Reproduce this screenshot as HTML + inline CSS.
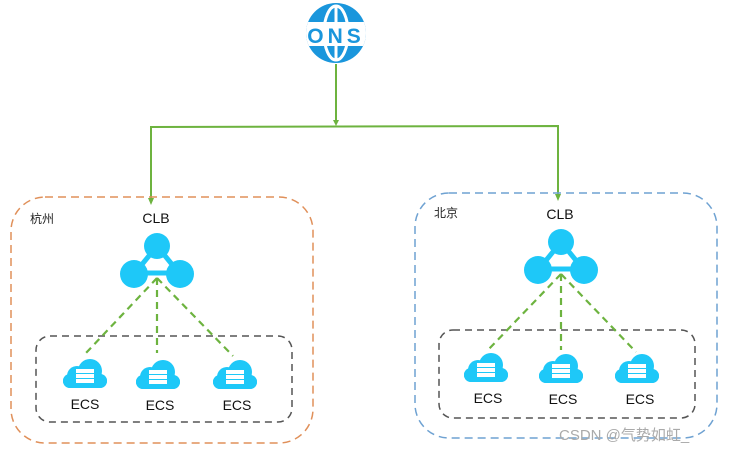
<!DOCTYPE html>
<html><head><meta charset="utf-8"><style>
html,body{margin:0;padding:0;background:#fff;}
svg{display:block;}
text{font-family:"Liberation Sans","Noto Sans CJK SC",sans-serif;}
</style></head><body>
<svg width="732" height="452" viewBox="0 0 732 452" xmlns="http://www.w3.org/2000/svg">
<defs>
<g id="cloud">
<circle cx="-8" cy="2" r="10" fill="#1ec8f8"/>
<circle cx="5" cy="-3" r="12" fill="#1ec8f8"/>
<rect x="-22" y="0" width="44" height="14" rx="7" fill="#1ec8f8"/>
<circle cx="-15" cy="7" r="7" fill="#1ec8f8"/>
<circle cx="15" cy="7" r="7" fill="#1ec8f8"/>
<rect x="-9" y="-5" width="18" height="4" fill="#fff"/>
<rect x="-9" y="0" width="18" height="4" fill="#fff"/>
<rect x="-9" y="5" width="18" height="4" fill="#fff"/>
</g>
<g id="clb">
<line x1="0" y1="0" x2="-22" y2="27" stroke="#1ec8f8" stroke-width="5"/>
<line x1="0" y1="0" x2="22" y2="27" stroke="#1ec8f8" stroke-width="5"/>
<line x1="-22" y1="27" x2="22" y2="27" stroke="#1ec8f8" stroke-width="5"/>
<circle cx="0" cy="0" r="13" fill="#1ec8f8"/>
<circle cx="-23" cy="28" r="14" fill="#1ec8f8"/>
<circle cx="23" cy="28" r="14" fill="#1ec8f8"/>
</g>
<clipPath id="gc"><circle cx="336" cy="33" r="30"/></clipPath>
</defs>
<!-- ONS globe -->
<circle cx="336" cy="33" r="30" fill="#1a96dc"/>
<ellipse cx="336" cy="33" rx="12" ry="27" fill="none" stroke="#fff" stroke-width="3"/>
<line x1="336" y1="6" x2="336" y2="60" stroke="#fff" stroke-width="3"/>
<rect x="300" y="22" width="72" height="24" fill="#fff" clip-path="url(#gc)"/>
<rect x="300" y="22" width="6" height="24" fill="#fff"/>
<rect x="366" y="22" width="6" height="24" fill="#fff"/>
<text x="336" y="43" font-size="21" font-weight="bold" fill="#1a96dc" text-anchor="middle" letter-spacing="4" font-family="Liberation Mono">ONS</text>
<!-- green connectors -->
<g stroke="#6db33f" stroke-width="2" fill="none">
<line x1="336" y1="64" x2="336" y2="122"/>
<polyline points="151,199 151,127 558,126 558,195"/>
</g>
<polygon points="333,120 339,120 336,126" fill="#6db33f"/>
<polygon points="148,198 154,198 151,205" fill="#6db33f"/>
<polygon points="555,194 561,194 558,201" fill="#6db33f"/>
<!-- regions -->
<rect x="11" y="197" width="302" height="246" rx="34" fill="none" stroke="#e0905a" stroke-width="1.5" stroke-dasharray="8,5"/>
<rect x="415" y="193" width="302" height="245" rx="34" fill="none" stroke="#6fa2d2" stroke-width="1.5" stroke-dasharray="8,5"/>
<rect x="36" y="336" width="256" height="86" rx="14" fill="none" stroke="#555" stroke-width="1.5" stroke-dasharray="7,5"/>
<rect x="439" y="330" width="256" height="88" rx="14" fill="none" stroke="#555" stroke-width="1.5" stroke-dasharray="7,5"/>
<text x="30" y="223" font-size="12" fill="#222">杭州</text>
<text x="434" y="217" font-size="12" fill="#222">北京</text>
<text x="156" y="223" font-size="14" fill="#111" text-anchor="middle">CLB</text>
<text x="560" y="219" font-size="14" fill="#111" text-anchor="middle">CLB</text>
<use href="#clb" x="157" y="246"/>
<use href="#clb" x="561" y="242"/>
<!-- dashed green -->
<g stroke="#6db33f" stroke-width="2.2" stroke-dasharray="7,5" fill="none">
<line x1="157" y1="278" x2="86" y2="353"/>
<line x1="157" y1="278" x2="157" y2="353"/>
<line x1="157" y1="278" x2="233" y2="356"/>
<line x1="561" y1="274" x2="488" y2="350"/>
<line x1="561" y1="274" x2="561" y2="350"/>
<line x1="561" y1="274" x2="636" y2="352"/>
</g>
<use href="#cloud" x="85" y="374"/>
<use href="#cloud" x="158" y="375"/>
<use href="#cloud" x="235" y="375"/>
<use href="#cloud" x="486" y="368"/>
<use href="#cloud" x="561" y="369"/>
<use href="#cloud" x="637" y="369"/>
<g font-size="14" fill="#111" text-anchor="middle">
<text x="85" y="409">ECS</text>
<text x="160" y="410">ECS</text>
<text x="237" y="410">ECS</text>
<text x="488" y="403">ECS</text>
<text x="563" y="404">ECS</text>
<text x="640" y="404">ECS</text>
</g>
<text x="559" y="440" font-size="15" fill="#aaa">CSDN @气势如虹_</text>
</svg>
</body></html>
